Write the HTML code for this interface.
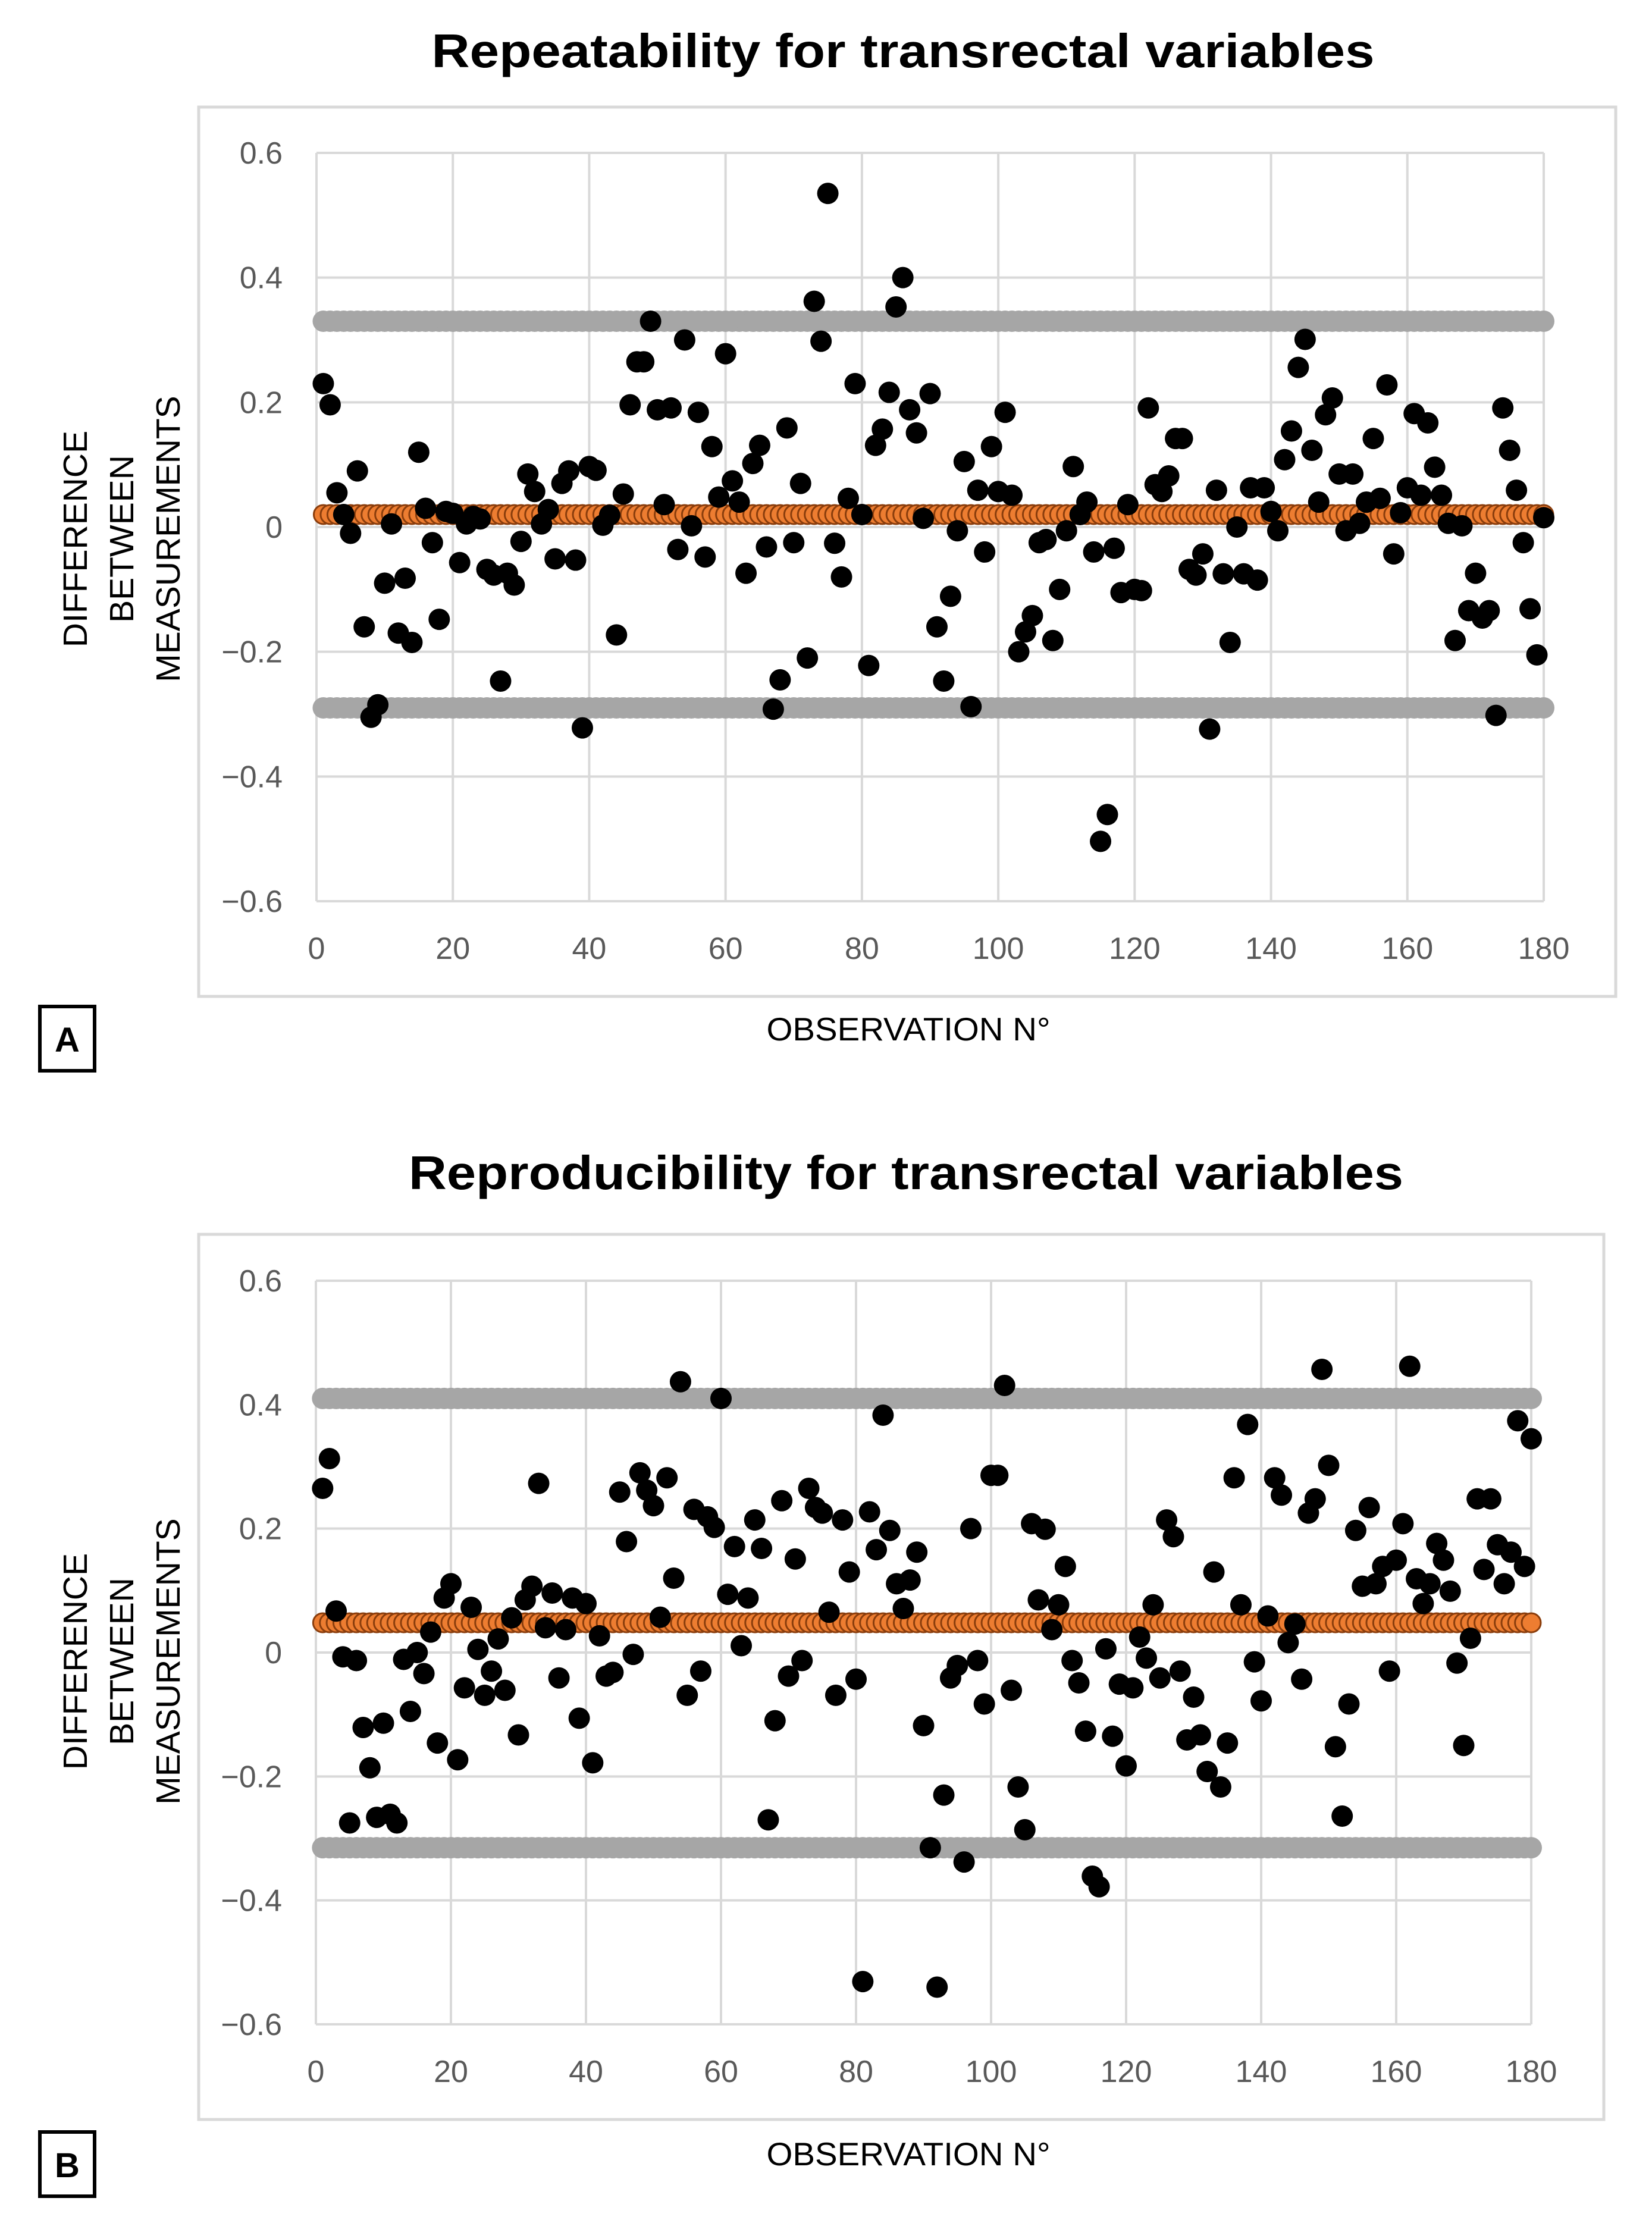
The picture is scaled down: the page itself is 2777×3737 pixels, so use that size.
<!DOCTYPE html>
<html><head><meta charset="utf-8"><style>
html,body{margin:0;padding:0;background:#fff;}
svg{display:block;}
text{font-family:"Liberation Sans",sans-serif;}
</style></head>
<body>
<svg id="fig" width="2777" height="3737" viewBox="0 0 2777 3737" xmlns="http://www.w3.org/2000/svg"></svg>
<script>
// ---- data ----
const yTicks = [0.6, 0.4, 0.2, 0, -0.2, -0.4, -0.6];
const yTickLabels = ["0.6","0.4","0.2","0","\u22120.2","\u22120.4","\u22120.6"];
const xTicks = [0,20,40,60,80,100,120,140,160,180];
const xTickLabels = ["0","20","40","60","80","100","120","140","160","180"];
const nObs = 180;
const diffA = [0.23,0.196,0.055,0.02,-0.01,0.09,-0.16,-0.305,-0.285,-0.09,0.005,-0.17,-0.082,-0.185,0.12,0.03,-0.025,-0.148,0.025,0.022,-0.057,0.005,0.017,0.013,-0.068,-0.077,-0.247,-0.074,-0.093,-0.023,0.085,0.057,0.005,0.028,-0.051,0.07,0.09,-0.053,-0.322,0.097,0.091,0.003,0.019,-0.173,0.053,0.196,0.265,0.265,0.33,0.188,0.036,0.191,-0.036,0.3,0.002,0.184,-0.048,0.129,0.048,0.278,0.074,0.04,-0.074,0.102,0.131,-0.032,-0.292,-0.245,0.159,-0.025,0.07,-0.21,0.362,0.298,0.535,-0.026,-0.08,0.046,0.23,0.02,-0.222,0.131,0.157,0.216,0.353,0.4,0.188,0.151,0.014,0.214,-0.16,-0.247,-0.111,-0.006,0.105,-0.288,0.059,-0.04,0.129,0.057,0.184,0.051,-0.2,-0.168,-0.142,-0.025,-0.02,-0.182,-0.1,-0.006,0.097,0.02,0.04,-0.04,-0.504,-0.461,-0.034,-0.105,0.036,-0.1,-0.102,0.191,0.068,0.057,0.082,0.142,0.142,-0.068,-0.077,-0.043,-0.324,0.059,-0.075,-0.185,0,-0.075,0.063,-0.085,0.063,0.025,-0.006,0.108,0.154,0.256,0.301,0.123,0.04,0.18,0.207,0.085,-0.006,0.085,0.006,0.04,0.142,0.046,0.228,-0.043,0.023,0.063,0.182,0.051,0.167,0.096,0.051,0.006,-0.182,0.002,-0.134,-0.074,-0.146,-0.134,-0.302,0.191,0.123,0.059,-0.025,-0.131,-0.205,0.015];
const meanA = 0.02, upperA = 0.33, lowerA = -0.29;
const diffB = [0.265,0.313,0.067,-0.007,-0.275,-0.013,-0.121,-0.186,-0.266,-0.114,-0.261,-0.275,-0.011,-0.095,0,-0.034,0.033,-0.146,0.088,0.111,-0.173,-0.057,0.073,0.005,-0.069,-0.03,0.022,-0.061,0.056,-0.133,0.085,0.107,0.273,0.04,0.096,-0.041,0.037,0.088,-0.106,0.079,-0.178,0.027,-0.038,-0.032,0.259,0.179,-0.003,0.29,0.262,0.237,0.057,0.282,0.12,0.437,-0.069,0.231,-0.03,0.219,0.202,0.41,0.094,0.171,0.011,0.088,0.214,0.168,-0.27,-0.11,0.245,-0.038,0.151,-0.013,0.265,0.234,0.225,0.065,-0.069,0.214,0.13,-0.043,-0.531,0.227,0.166,0.383,0.197,0.111,0.071,0.117,0.162,-0.118,-0.315,-0.54,-0.23,-0.041,-0.021,-0.338,0.2,-0.013,-0.083,0.286,0.286,0.431,-0.061,-0.217,-0.286,0.208,0.085,0.199,0.037,0.077,0.139,-0.013,-0.049,-0.127,-0.361,-0.378,0.006,-0.135,-0.051,-0.183,-0.057,0.025,-0.009,0.077,-0.041,0.214,0.187,-0.03,-0.141,-0.072,-0.133,-0.192,0.13,-0.217,-0.146,0.282,0.077,0.368,-0.015,-0.078,0.059,0.282,0.254,0.016,0.046,-0.043,0.225,0.248,0.457,0.302,-0.152,-0.264,-0.083,0.197,0.107,0.234,0.111,0.139,-0.03,0.149,0.208,0.462,0.119,0.079,0.111,0.176,0.149,0.099,-0.017,-0.15,0.023,0.248,0.134,0.248,0.174,0.111,0.162,0.374,0.139,0.345];
const meanB = 0.048, upperB = 0.41, lowerB = -0.315;

const NS = "http://www.w3.org/2000/svg";
const svg = document.getElementById('fig');
function mk(tag, attrs, parent){
  const e = document.createElementNS(NS, tag);
  for (const k in attrs) e.setAttribute(k, attrs[k]);
  (parent||svg).appendChild(e);
  return e;
}

function chart(cfg){
  const g = mk('g', {});
  
  
  const X = v => cfg.x0 + (v / 180) * (cfg.x1 - cfg.x0);
  const Y = v => cfg.yZero - v * (cfg.yTop - cfg.yZero) / -0.6 * -1;
  // Y: 0.6 -> yTop
  const Yf = v => cfg.yZero + (cfg.yTop - cfg.yZero) * (v / 0.6);

  const t = mk('text', {x: cfg.titleX, y: cfg.titleY, 'text-anchor':'middle', 'font-size':80, 'font-weight':'bold', fill:'#000', textLength: cfg.titleW, lengthAdjust:'spacingAndGlyphs'}, g);
  t.textContent = cfg.title;
  
  

  const fr = mk('rect', {x: cfg.fx0, y: cfg.fy0, width: cfg.fx1 - cfg.fx0, height: cfg.fy1 - cfg.fy0, fill:'#fff', stroke:'#d9d9d9', 'stroke-width':5}, g);
  
  

  // gridlines
  yTicks.forEach((v, i) => {
    const l = mk('line', {x1: X(0), x2: X(180), y1: Yf(v), y2: Yf(v), stroke:'#d9d9d9', 'stroke-width':4}, g);
    
    
    const tx = mk('text', {x: cfg.x0 - 57, y: Yf(v) + 18, 'text-anchor':'end', 'font-size':52, fill:'#595959'}, g);
    tx.textContent = yTickLabels[i];
    
    
  });
  xTicks.forEach((v, i) => {
    const l = mk('line', {x1: X(v), x2: X(v), y1: Yf(0.6), y2: Yf(-0.6), stroke:'#d9d9d9', 'stroke-width':4}, g);
    
    
    const tx = mk('text', {x: X(v), y: Yf(-0.6) + 97, 'text-anchor':'middle', 'font-size':52, fill:'#595959'}, g);
    tx.textContent = xTickLabels[i];
    
    
  });

  // limit bands (gray) and mean (orange)
  for (let i = 1; i <= nObs; i++) {
    [cfg.upper, cfg.lower].forEach(v => {
      const c = mk('circle', {cx: X(i), cy: Yf(v), r: 18, fill:'#a6a6a6'}, g);
      
      
    });
  }
  for (let i = 1; i <= nObs; i++) {
    const c = mk('circle', {cx: X(i), cy: Yf(cfg.mean), r: 16, fill:'#ed7d31', stroke:'#8a3d0c', 'stroke-width':3}, g);
    
    
  }
  cfg.data.forEach((v, i) => {
    const c = mk('circle', {cx: X(i + 1), cy: Yf(v), r: 18, fill:'#000'}, g);
    
    
  });

  // y axis title
  const yt = mk('text', {transform: 'translate(' + cfg.ytX + ',' + cfg.ytY + ') rotate(-90)', 'text-anchor':'middle', 'font-size':57, fill:'#000'}, g);
  
  
  ["DIFFERENCE","BETWEEN","MEASUREMENTS"].forEach((s, k) => {
    const ts = mk('tspan', {x: 0, y: -78 + k * 78 + 20}, yt);
    ts.textContent = s;
  });

  const xt = mk('text', {x: cfg.xtX, y: cfg.xtY, 'text-anchor':'middle', 'font-size':55, fill:'#000', textLength: 477, lengthAdjust:'spacingAndGlyphs'}, g);
  xt.textContent = 'OBSERVATION N\u00B0';
  
  

  const pb = mk('rect', {x: 67, y: cfg.boxY, width: 92, height: 108, fill:'#fff', stroke:'#000', 'stroke-width':6}, g);
  
  
  const pl = mk('text', {x: 113, y: cfg.boxY + 76, 'text-anchor':'middle', 'font-size':58, 'font-weight':'bold', fill:'#000'}, g);
  pl.textContent = cfg.panel;
  
  
}

chart({id:'repeatability', title:'Repeatability for transrectal variables', titleX:1518, titleY:113, titleW:1585,
  fx0:334, fy0:180, fx1:2716, fy1:1675, x0:532, x1:2595, yTop:257, yZero:886,
  data: diffA, mean: meanA, upper: upperA, lower: lowerA,
  ytX:204, ytY:906, xtX:1527, xtY:1749, boxY:1692, panel:'A'});

chart({id:'reproducibility', title:'Reproducibility for transrectal variables', titleX:1523, titleY:1999, titleW:1672,
  fx0:334, fy0:2075, fx1:2696, fy1:3563, x0:531, x1:2574, yTop:2153, yZero:2778,
  data: diffB, mean: meanB, upper: upperB, lower: lowerB,
  ytX:204, ytY:2793, xtX:1527, xtY:3640, boxY:3584, panel:'B'});
</script>
</body></html>
